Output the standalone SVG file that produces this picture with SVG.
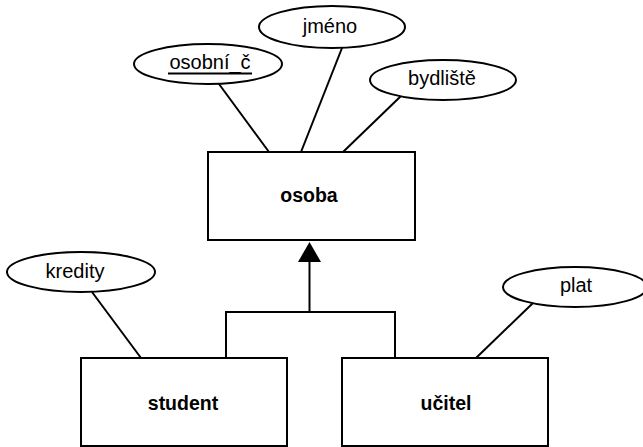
<svg xmlns="http://www.w3.org/2000/svg" width="643" height="447" viewBox="0 0 643 447">
  <style>
    .entity { fill: #ffffff; stroke: #000000; stroke-width: 2; }
    .attr { fill: #ffffff; stroke: #000000; stroke-width: 2; }
    .link { fill: none; stroke: #000000; stroke-width: 2; }
    .label { font-family: "Liberation Sans", Arial, sans-serif; font-size: 20px; fill: #000000; text-anchor: middle; }
    .bold { font-weight: bold; font-size: 19.5px; }
  </style>
  <rect width="643" height="447" fill="#ffffff"/>

  <!-- connectors -->
  <g id="connectors">
    <line class="link" x1="219" y1="84" x2="269" y2="152"/>
    <line class="link" x1="342" y1="48" x2="301" y2="152"/>
    <line class="link" x1="401" y1="96" x2="343" y2="152"/>
    <line class="link" x1="92" y1="292" x2="141" y2="358"/>
    <line class="link" x1="533" y1="303" x2="476" y2="358"/>
    <polyline class="link" points="226,358 226,312 395,312 395,358"/>
    <line class="link" x1="309.5" y1="312" x2="309.5" y2="261"/>
    <!-- ISA arrowhead -->
    <path d="M298,262 L309.5,242 L321,262 Z" fill="#000000"/>
  </g>

  <!-- entities -->
  <g id="osoba">
    <rect class="entity" x="208" y="152" width="207" height="88"/>
    <text class="label bold" x="309" y="202">osoba</text>
  </g>
  <g id="student">
    <rect class="entity" x="81" y="358" width="206" height="88"/>
    <text class="label bold" x="183" y="410">student</text>
  </g>
  <g id="ucitel">
    <rect class="entity" x="342" y="358" width="206" height="88"/>
    <text class="label bold" x="446" y="410">učitel</text>
  </g>

  <!-- attributes -->
  <g id="osobni_c">
    <ellipse class="attr" cx="208" cy="64" rx="74" ry="20"/>
    <text class="label" x="210" y="69">osobní_č</text>
    <line x1="168" y1="73.5" x2="252" y2="73.5" stroke="#000000" stroke-width="2"/>
  </g>
  <g id="jmeno">
    <ellipse class="attr" cx="332" cy="27" rx="73" ry="21"/>
    <text class="label" x="330" y="33">jméno</text>
  </g>
  <g id="bydliste">
    <ellipse class="attr" cx="443" cy="80" rx="73" ry="20"/>
    <text class="label" x="442" y="85">bydliště</text>
  </g>
  <g id="kredity">
    <ellipse class="attr" cx="81" cy="272" rx="74" ry="20"/>
    <text class="label" x="75" y="278">kredity</text>
  </g>
  <g id="plat">
    <ellipse class="attr" cx="575" cy="287" rx="72" ry="20"/>
    <text class="label" x="576" y="292">plat</text>
  </g>
</svg>
